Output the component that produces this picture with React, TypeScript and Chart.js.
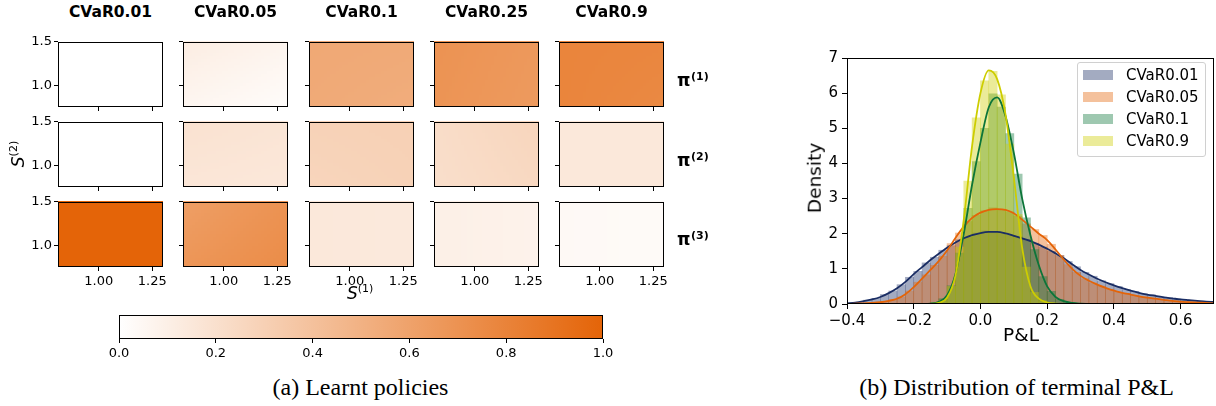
import React, { useEffect, useRef } from "react";
import { Chart, registerables } from "chart.js";

Chart.register(...registerables);

// ===================== (a) Learnt policies =====================
const cvarLevels = ["CVaR0.01", "CVaR0.05", "CVaR0.1", "CVaR0.25", "CVaR0.9"];
const policyIndex = ["(1)", "(2)", "(3)"];
const s1Range = [0.81, 1.3];
const s2Range = [0.75, 1.5];
const s1Ticks = [1.0, 1.25];
const s2Ticks = [1.0, 1.5];
// policy weight at the grid corners: [top-left, top-right, bottom-left, bottom-right]
const policy1 = [
  [0, 0, 0, 0],
  [0.12, 0.07, 0.06, 0.02],
  [0.56, 0.55, 0.55, 0.53],
  [0.7, 0.66, 0.69, 0.65],
  [0.79, 0.78, 0.79, 0.76],
];
const policy2 = [
  [0, 0, 0, 0],
  [0.19, 0.17, 0.16, 0.15],
  [0.29, 0.3, 0.27, 0.29],
  [0.22, 0.27, 0.21, 0.25],
  [0.15, 0.15, 0.15, 0.15],
];
const policy3 = [
  [1, 1, 1, 1],
  [0.62, 0.7, 0.68, 0.74],
  [0.15, 0.14, 0.15, 0.14],
  [0.1, 0.08, 0.1, 0.08],
  [0.04, 0.03, 0.04, 0.03],
];
const colorbarTicks = [0, 0.2, 0.4, 0.6, 0.8, 1.0];

// ===================== (b) Distribution of terminal P&L =====================
const pnlLabels = ["CVaR0.01", "CVaR0.05", "CVaR0.1", "CVaR0.9"];
const pnlTicks = [-0.4, -0.2, 0, 0.2, 0.4, 0.6];
const densityTicks = [0, 1, 2, 3, 4, 5, 6, 7];
const binWidth = 0.025;
const hist001Start = -0.4;
const hist001 = [0.03, 0.05, 0.11, 0.16, 0.27, 0.37, 0.55, 0.76, 0.93, 1.17, 1.33, 1.53, 1.66, 1.83, 1.9, 2.02, 2.08, 2.05, 2.04, 1.96, 1.92, 1.84, 1.73, 1.62, 1.5, 1.38, 1.21, 1.06, 0.9, 0.79, 0.66, 0.58, 0.5, 0.41, 0.36, 0.29, 0.26, 0.2, 0.18, 0.14, 0.12, 0.1, 0.08, 0.06];
const hist005Start = -0.4;
const hist005 = [0, 0.01, 0.02, 0.04, 0.07, 0.12, 0.2, 0.37, 0.62, 0.83, 1.1, 1.36, 1.72, 2.02, 2.35, 2.52, 2.66, 2.74, 2.68, 2.62, 2.5, 2.28, 2.12, 1.95, 1.7, 1.38, 1.12, 0.9, 0.72, 0.6, 0.51, 0.42, 0.34, 0.3, 0.24, 0.2, 0.17, 0.13, 0.1, 0.08, 0.06, 0.04, 0.03, 0.02];
const hist01Start = -0.175;
const hist01 = [0, 0.03, 0.15, 0.52, 1.45, 2.72, 4.05, 5.0, 5.98, 5.6, 4.85, 3.7, 2.45, 1.55, 0.78, 0.36, 0.13, 0.05, 0.02, 0];
const hist09Start = -0.175;
const hist09 = [0, 0.01, 0.1, 0.5, 1.62, 3.5, 5.3, 6.35, 6.62, 5.95, 4.55, 2.55, 1.05, 0.33, 0.09, 0.02, 0, 0];

const kdeStep = 0.025;
const kde001Start = -0.4;
const kde001 = [0.02, 0.04, 0.08, 0.13, 0.2, 0.31, 0.45, 0.63, 0.85, 1.05, 1.25, 1.43, 1.6, 1.75, 1.87, 1.96, 2.02, 2.05, 2.05, 2.01, 1.94, 1.87, 1.79, 1.69, 1.57, 1.44, 1.3, 1.13, 0.97, 0.84, 0.72, 0.62, 0.53, 0.45, 0.38, 0.32, 0.27, 0.23, 0.19, 0.16, 0.13, 0.11, 0.09, 0.07, 0.06];
const kde005Start = -0.4;
const kde005 = [0, 0.01, 0.02, 0.03, 0.05, 0.09, 0.15, 0.28, 0.48, 0.72, 0.97, 1.22, 1.52, 1.88, 2.2, 2.45, 2.6, 2.68, 2.7, 2.68, 2.58, 2.4, 2.2, 2.0, 1.82, 1.55, 1.26, 1.0, 0.8, 0.66, 0.55, 0.46, 0.38, 0.32, 0.27, 0.22, 0.18, 0.15, 0.12, 0.09, 0.07, 0.05, 0.04, 0.03, 0.02];
const kde01Start = -0.175;
const kde01 = [0, 0.01, 0.06, 0.25, 0.85, 2.0, 3.4, 4.6, 5.6, 5.88, 5.35, 4.3, 3.0, 1.95, 1.1, 0.5, 0.2, 0.08, 0.03, 0.01, 0];
const kde09Start = -0.175;
const kde09 = [0, 0, 0.03, 0.18, 0.8, 2.4, 4.5, 6.0, 6.65, 6.4, 5.4, 3.6, 1.6, 0.5, 0.15, 0.04, 0.01, 0, 0];

// ===================== styling / layout =====================
const FONT = "DejaVu Sans";
const SERIF = "Liberation Serif";
const colLeft = [58, 183, 309, 434, 559];
const rowTop = [40, 120, 200];
const panelW = 105;
const panelH = 67;
const PAD_T = 8, PAD_R = 8, YAX_W = 45, XAX_H = 24;
const cmapHigh = [228, 100, 8];
const seriesRGB = ["26,45,100", "228,100,8", "12,117,57", "205,205,0"];

function cmap(v: number) {
  const t = Math.max(0, Math.min(1, v));
  const r = Math.round(255 + (cmapHigh[0] - 255) * t);
  const g = Math.round(255 + (cmapHigh[1] - 255) * t);
  const b = Math.round(255 + (cmapHigh[2] - 255) * t);
  return `rgb(${r},${g},${b})`;
}

const r4 = (v: number) => Math.round(v * 10000) / 10000;

const framePlugin = {
  id: "frame",
  afterDatasetsDraw(chart: any) {
    const { ctx, chartArea: a } = chart;
    ctx.save();
    ctx.strokeStyle = "#000";
    ctx.lineWidth = 1;
    ctx.strokeRect(Math.round(a.left) + 0.5, Math.round(a.top) + 0.5, Math.round(a.right - a.left) - 1, Math.round(a.bottom - a.top) - 1);
    ctx.restore();
  },
};

function heatPlugin(corners: number[]) {
  return {
    id: "heat",
    beforeDatasetsDraw(chart: any) {
      const { ctx, scales } = chart;
      const xa = scales.x.getPixelForValue(s1Range[0]);
      const xb = scales.x.getPixelForValue(s1Range[1]);
      const ya = scales.y.getPixelForValue(s2Range[1]);
      const yb = scales.y.getPixelForValue(s2Range[0]);
      const [tl, tr, bl, br] = corners;
      const nx = 35, ny = 22;
      ctx.save();
      for (let i = 0; i < nx; i++) {
        for (let j = 0; j < ny; j++) {
          const u = (i + 0.5) / nx, w = (j + 0.5) / ny;
          const val = tl * (1 - u) * (1 - w) + tr * u * (1 - w) + bl * (1 - u) * w + br * u * w;
          ctx.fillStyle = cmap(val);
          const px0 = xa + ((xb - xa) * i) / nx, px1 = xa + ((xb - xa) * (i + 1)) / nx;
          const py0 = ya + ((yb - ya) * j) / ny, py1 = ya + ((yb - ya) * (j + 1)) / ny;
          ctx.fillRect(Math.floor(px0), Math.floor(py0), Math.ceil(px1) - Math.floor(px0), Math.ceil(py1) - Math.floor(py0));
        }
      }
      ctx.restore();
    },
  };
}

const colorbarPlugin = {
  id: "cbar",
  beforeDatasetsDraw(chart: any) {
    const { ctx, scales, chartArea: a } = chart;
    const x0 = scales.x.getPixelForValue(colorbarTicks[0]);
    const x1 = scales.x.getPixelForValue(colorbarTicks[colorbarTicks.length - 1]);
    const grad = ctx.createLinearGradient(x0, 0, x1, 0);
    grad.addColorStop(0, cmap(0));
    grad.addColorStop(1, cmap(1));
    ctx.save();
    ctx.fillStyle = grad;
    ctx.fillRect(x0, a.top, x1 - x0, a.bottom - a.top);
    ctx.restore();
  },
};

const gridOpts = (len: number) => ({
  drawOnChartArea: false,
  drawTicks: true,
  tickLength: len,
  tickColor: "#000",
  tickWidth: 1,
  offset: false,
});

function Txt(props: { x: number; base: number; size: number; bold?: boolean; serif?: boolean; center?: boolean; children: any }) {
  const { x, base, size, bold, serif, center, children } = props;
  const top = base - size * (serif ? 0.8375 : 0.846);
  return (
    <div
      style={{
        position: "absolute",
        left: x,
        top,
        fontSize: size,
        lineHeight: `${size}px`,
        fontFamily: serif ? SERIF : FONT,
        fontWeight: bold ? "bold" : "normal",
        whiteSpace: "nowrap",
        color: "#000",
        transform: center ? "translateX(-50%)" : undefined,
      }}
    >
      {children}
    </div>
  );
}

export default function App() {
  const panelRefs = useRef<(HTMLCanvasElement | null)[]>([]);
  const cbRef = useRef<HTMLCanvasElement | null>(null);
  const pnlRef = useRef<HTMLCanvasElement | null>(null);

  useEffect(() => {
    const charts: Chart[] = [];
    const policies = [policy1, policy2, policy3];
    for (let r = 0; r < 3; r++) {
      for (let c = 0; c < 5; c++) {
        const canvas = panelRefs.current[r * 5 + c];
        if (!canvas) continue;
        const firstCol = c === 0;
        const lastRow = r === 2;
        charts.push(
          new Chart(canvas, {
            type: "scatter",
            data: {
              datasets: [
                {
                  data: [
                    { x: s1Range[0], y: s2Range[1] },
                    { x: s1Range[1], y: s2Range[1] },
                    { x: s1Range[0], y: s2Range[0] },
                    { x: s1Range[1], y: s2Range[0] },
                  ],
                  pointRadius: 0,
                },
              ],
            },
            options: {
              animation: false,
              responsive: false,
              events: [],
              layout: { padding: { top: PAD_T, right: PAD_R, left: 0, bottom: 0 } },
              plugins: { legend: { display: false }, tooltip: { enabled: false } },
              scales: {
                x: {
                  type: "linear",
                  min: s1Range[0],
                  max: s1Range[1],
                  afterBuildTicks: (ax: any) => {
                    ax.ticks = s1Ticks.map((v) => ({ value: v }));
                  },
                  afterFit: (s: any) => {
                    s.height = XAX_H;
                  },
                  ticks: {
                    autoSkip: false,
                    maxRotation: 0,
                    padding: 3,
                    color: "#000",
                    font: { family: FONT, size: 13 },
                    callback: (v: any) => (lastRow ? Number(v).toFixed(2) : ""),
                  },
                  grid: gridOpts(4),
                  border: { display: false },
                },
                y: {
                  type: "linear",
                  min: s2Range[0],
                  max: s2Range[1],
                  afterBuildTicks: (ax: any) => {
                    ax.ticks = s2Ticks.map((v) => ({ value: v }));
                  },
                  afterFit: (s: any) => {
                    s.width = YAX_W;
                  },
                  ticks: {
                    autoSkip: false,
                    padding: 2,
                    color: "#000",
                    font: { family: FONT, size: 13 },
                    callback: (v: any) => (firstCol ? Number(v).toFixed(1) : ""),
                  },
                  grid: gridOpts(4),
                  border: { display: false },
                },
              },
            },
            plugins: [heatPlugin(policies[r][c]), framePlugin],
          } as any)
        );
      }
    }

    if (cbRef.current) {
      charts.push(
        new Chart(cbRef.current, {
          type: "scatter",
          data: { datasets: [{ data: colorbarTicks.map((v) => ({ x: v, y: 0.5 })), pointRadius: 0 }] },
          options: {
            animation: false,
            responsive: false,
            events: [],
            layout: { padding: { top: 4, right: 20, left: 20, bottom: 0 } },
            plugins: { legend: { display: false }, tooltip: { enabled: false } },
            scales: {
              x: {
                type: "linear",
                min: colorbarTicks[0],
                max: colorbarTicks[colorbarTicks.length - 1],
                afterBuildTicks: (ax: any) => {
                  ax.ticks = colorbarTicks.map((v) => ({ value: v }));
                },
                afterFit: (s: any) => {
                  s.height = 22;
                },
                ticks: {
                  autoSkip: false,
                  maxRotation: 0,
                  padding: 3,
                  color: "#000",
                  font: { family: FONT, size: 13 },
                  callback: (v: any) => Number(v).toFixed(1),
                },
                grid: gridOpts(4),
                border: { display: false },
              },
              y: { display: false, min: 0, max: 1 },
            },
          },
          plugins: [colorbarPlugin, framePlugin],
        } as any)
      );
    }

    if (pnlRef.current) {
      const hists = [
        [hist001Start, hist001],
        [hist005Start, hist005],
        [hist01Start, hist01],
        [hist09Start, hist09],
      ] as [number, number[]][];
      const kdes = [
        [kde001Start, kde001],
        [kde005Start, kde005],
        [kde01Start, kde01],
        [kde09Start, kde09],
      ] as [number, number[]][];
      const barSets = hists.map(([start, vals], k) => ({
        type: "bar",
        label: pnlLabels[k],
        data: vals.map((y, i) => ({ x: r4(start + (i + 0.5) * binWidth), y })),
        backgroundColor: `rgba(${seriesRGB[k]},0.4)`,
        borderWidth: 0,
        barPercentage: 1,
        categoryPercentage: 1,
        grouped: false,
        order: 8 - k,
      }));
      const lineSets = kdes.map(([start, vals], k) => ({
        type: "line",
        label: pnlLabels[k] + " kde",
        data: vals.map((y, i) => ({ x: r4(start + i * kdeStep), y })),
        borderColor: `rgb(${seriesRGB[k]})`,
        borderWidth: 1.8,
        pointRadius: 0,
        fill: false,
        cubicInterpolationMode: "monotone",
        order: 4 - k,
      }));
      charts.push(
        new Chart(pnlRef.current, {
          type: "bar",
          data: { datasets: [...barSets, ...lineSets] },
          options: {
            animation: false,
            responsive: false,
            events: [],
            layout: { padding: { top: 10, right: 2, left: 0, bottom: 0 } },
            plugins: { legend: { display: false }, tooltip: { enabled: false } },
            scales: {
              x: {
                type: "linear",
                offset: false,
                min: -0.4,
                max: 0.7,
                afterBuildTicks: (ax: any) => {
                  ax.ticks = pnlTicks.map((v) => ({ value: v }));
                },
                afterFit: (s: any) => {
                  s.height = 31;
                },
                ticks: {
                  autoSkip: false,
                  maxRotation: 0,
                  padding: 3,
                  color: "#000",
                  font: { family: FONT, size: 15 },
                  callback: (v: any) => (Number(v) < -1e-9 ? "\u2212" : "") + Math.abs(Number(v)).toFixed(1),
                },
                grid: gridOpts(5),
                border: { display: false },
              },
              y: {
                type: "linear",
                min: 0,
                max: 7,
                afterBuildTicks: (ax: any) => {
                  ax.ticks = densityTicks.map((v) => ({ value: v }));
                },
                afterFit: (s: any) => {
                  s.width = 57;
                },
                ticks: {
                  autoSkip: false,
                  padding: 4,
                  color: "#000",
                  font: { family: FONT, size: 15 },
                  callback: (v: any) => String(v),
                },
                grid: gridOpts(5),
                border: { display: false },
              },
            },
          },
          plugins: [framePlugin],
        } as any)
      );
    }

    return () => charts.forEach((ch) => ch.destroy());
  }, []);

  const panelCanvases: any[] = [];
  for (let r = 0; r < 3; r++) {
    for (let c = 0; c < 5; c++) {
      const w = YAX_W + panelW + PAD_R;
      const h = PAD_T + panelH + XAX_H;
      panelCanvases.push(
        <canvas
          key={`p${r}${c}`}
          ref={(el) => {
            panelRefs.current[r * 5 + c] = el;
          }}
          width={w}
          height={h}
          style={{ position: "absolute", left: colLeft[c] - YAX_W, top: rowTop[r] - PAD_T, width: w, height: h }}
        />
      );
    }
  }

  const legendRowsY = [75, 97, 119, 141];

  return (
    <div style={{ position: "absolute", left: 0, top: 0, width: 1216, height: 406, background: "#fff", overflow: "hidden" }}>
      {panelCanvases}
      {cvarLevels.map((t, c) => (
        <Txt key={t} x={colLeft[c] + panelW / 2} base={18} size={15.5} bold center>
          {t}
        </Txt>
      ))}
      {policyIndex.map((p, r) => (
        <React.Fragment key={p}>
          <Txt x={677} base={[86, 166, 245][r]} size={17} bold>
            π
          </Txt>
          <Txt x={691} base={[80.5, 160.5, 239.5][r]} size={11} bold>
            {p}
          </Txt>
        </React.Fragment>
      ))}
      {/* S^(2) rotated y label */}
      <div
        style={{
          position: "absolute",
          left: 19,
          top: 154,
          transform: "translate(-50%, -50%) rotate(-90deg)",
          fontFamily: FONT,
          fontSize: 17,
          lineHeight: "17px",
          whiteSpace: "nowrap",
        }}
      >
        <span style={{ fontStyle: "italic" }}>S</span>
        <span style={{ fontSize: 11, position: "relative", top: -7 }}>(2)</span>
      </div>
      {/* S^(1) x label */}
      <div style={{ position: "absolute", left: 347, top: 285, fontFamily: FONT, fontSize: 17, lineHeight: "17px", whiteSpace: "nowrap" }}>
        <span style={{ fontStyle: "italic" }}>S</span>
        <span style={{ fontSize: 11, position: "relative", top: -7 }}>(1)</span>
      </div>
      <canvas ref={cbRef} width={524} height={50} style={{ position: "absolute", left: 99, top: 311, width: 524, height: 50 }} />
      <Txt x={360.5} base={395} size={24} serif center>
        (a) Learnt policies
      </Txt>

      <canvas ref={pnlRef} width={426} height={290} style={{ position: "absolute", left: 790, top: 45, width: 426, height: 290 }} />
      <div
        style={{
          position: "absolute",
          left: 815,
          top: 178,
          transform: "translate(-50%, -50%) rotate(-90deg)",
          fontFamily: FONT,
          fontSize: 18.5,
          lineHeight: "18.5px",
          whiteSpace: "nowrap",
        }}
      >
        Density
      </div>
      <Txt x={1021} base={341.5} size={18.5} center>
        P&amp;L
      </Txt>
      <div
        style={{
          position: "absolute",
          left: 1077,
          top: 62,
          width: 129,
          height: 95,
          boxSizing: "border-box",
          border: "1px solid #d0d0d0",
          borderRadius: 3,
          background: "rgba(255,255,255,0.8)",
        }}
      />
      {pnlLabels.map((lab, k) => (
        <React.Fragment key={lab}>
          <div
            style={{
              position: "absolute",
              left: 1083,
              top: legendRowsY[k] - 5,
              width: 30,
              height: 10,
              background: `rgba(${seriesRGB[k]},0.4)`,
            }}
          />
          <Txt x={1126} base={legendRowsY[k] + 5.5} size={15}>
            {lab}
          </Txt>
        </React.Fragment>
      ))}
      <Txt x={1016.5} base={395} size={24} serif center>
        (b) Distribution of terminal P&amp;L
      </Txt>
    </div>
  );
}
